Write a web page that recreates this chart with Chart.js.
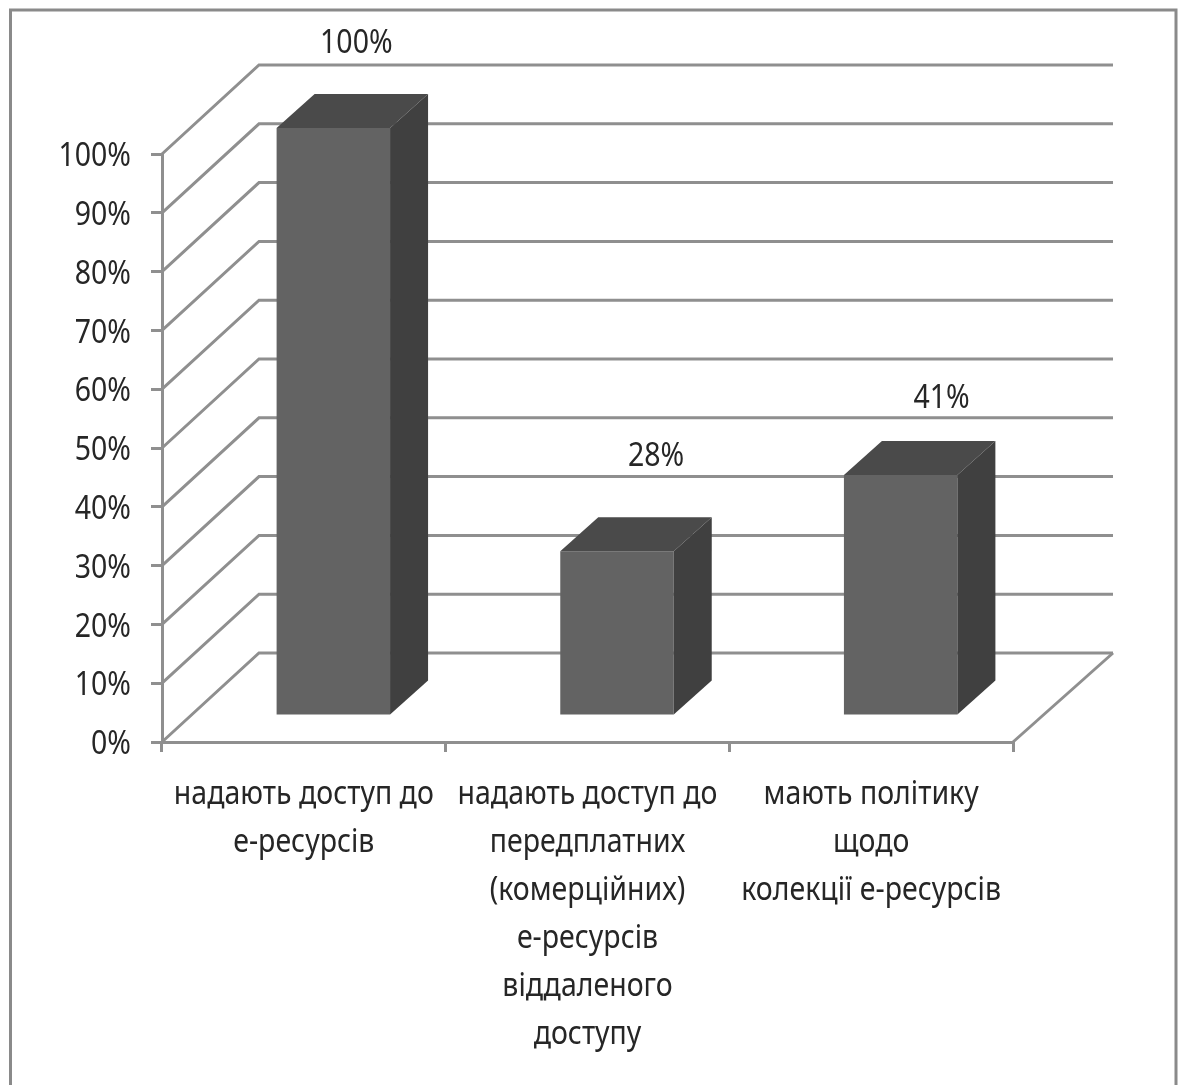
<!DOCTYPE html>
<html>
<head>
<meta charset="utf-8">
<style>
  html, body { margin: 0; padding: 0; background: #fff; }
  canvas { display: block; }
</style>
<script src="https://cdn.jsdelivr.net/npm/chart.js@4"></script>
</head>
<body>
<canvas id="chart" width="1178" height="1085"></canvas>
<script>
const categories = [
  ["надають доступ до", "е-ресурсів"],
  ["надають доступ до", "передплатних", "(комерційних)", "е-ресурсів", "віддаленого", "доступу"],
  ["мають політику", "щодо", "колекції е-ресурсів"]
];
const values = [100, 28, 41];
const valueLabels = ["100%", "28%", "41%"];

const FONT = '"Noto Sans", sans-serif';
const LINE = "#8f8f8f";
const TEXT = "#262626";

// fake 3d offsets
const wall = { dx: 97, dxRight: 100, dy: -89 };
const barShift = { dx: 29.5, dy: -26 };
const barDepth = { dx: 38, dy: -34 };
const labelShift = [[23, -84], [39, -94], [41, -76]];

// no condensed font here, so squeeze the text sideways
const SQUEEZE = 0.89;
const FONT_SIZE = 32;

function poly(ctx, pts, fill) {
  ctx.beginPath();
  pts.forEach((p, i) => i ? ctx.lineTo(p[0], p[1]) : ctx.moveTo(p[0], p[1]));
  ctx.closePath();
  ctx.fillStyle = fill;
  ctx.fill();
}

function narrowText(ctx, text, x, y, align) {
  ctx.save();
  ctx.translate(x, y);
  ctx.scale(SQUEEZE, 1);
  ctx.font = FONT_SIZE + "px " + FONT;
  ctx.fillStyle = TEXT;
  ctx.textAlign = align;
  ctx.textBaseline = "middle";
  ctx.fillText(text, 0, 0);
  ctx.restore();
}

const fake3d = {
  id: "fake3d",
  beforeDraw(chart) {
    // outer frame, its bottom edge is cut off in the picture
    const ctx = chart.ctx;
    ctx.save();
    ctx.strokeStyle = "#8a8a8a";
    ctx.lineWidth = 3;
    ctx.beginPath();
    ctx.moveTo(10.5, 1085);
    ctx.lineTo(10.5, 10);
    ctx.lineTo(1176, 10);
    ctx.lineTo(1176, 1085);
    ctx.stroke();
    ctx.restore();
  },
  beforeDatasetsDraw(chart) {
    const { ctx, chartArea: a, scales } = chart;
    ctx.save();
    ctx.strokeStyle = LINE;
    ctx.lineWidth = 3;
    scales.y.ticks.forEach(t => {
      const y = scales.y.getPixelForValue(t.value);
      ctx.beginPath();
      ctx.moveTo(a.left, y);
      ctx.lineTo(a.left + wall.dx, y + wall.dy);
      ctx.lineTo(a.right + wall.dxRight, y + wall.dy);
      ctx.stroke();
    });
    ctx.beginPath();
    ctx.moveTo(a.right, a.bottom);
    ctx.lineTo(a.right + wall.dxRight, a.bottom + wall.dy);
    ctx.stroke();
    // tick labels
    scales.y.ticks.forEach((t, i) => {
      narrowText(ctx, t.label, 131, scales.y.getPixelForTick(i) + 3, "right");
    });
    categories.forEach((lines, i) => {
      const x = scales.x.getPixelForTick(i);
      lines.forEach((line, j) => narrowText(ctx, line, x, 795 + j * 48, "center"));
    });
    ctx.restore();
  },
  beforeDatasetDraw(chart) {
    chart.ctx.save();
    chart.ctx.translate(barShift.dx, barShift.dy);
  },
  afterDatasetDraw(chart, args) {
    const ctx = chart.ctx;
    args.meta.data.forEach(bar => {
      const l = bar.x - bar.width / 2, r = bar.x + bar.width / 2;
      const d = barDepth;
      poly(ctx, [[l, bar.y], [r, bar.y], [r + d.dx, bar.y + d.dy], [l + d.dx, bar.y + d.dy]], "#4a4a4a");
      poly(ctx, [[r, bar.y], [r + d.dx, bar.y + d.dy], [r + d.dx, bar.base + d.dy], [r, bar.base]], "#404040");
    });
    ctx.restore();
  },
  afterDatasetsDraw(chart) {
    const ctx = chart.ctx;
    chart.getDatasetMeta(0).data.forEach((bar, i) => {
      narrowText(ctx, valueLabels[i],
        bar.x + barShift.dx + labelShift[i][0],
        bar.y + barShift.dy + labelShift[i][1], "center");
    });
  }
};

new Chart(document.getElementById("chart"), {
  type: "bar",
  data: {
    labels: categories,
    datasets: [{
      data: values,
      backgroundColor: "#636363",
      borderWidth: 0,
      categoryPercentage: 1,
      barPercentage: 0.4,
      clip: false
    }]
  },
  options: {
    responsive: false,
    animation: false,
    layout: { padding: { top: 154, right: 165, left: 0, bottom: 0 } },
    plugins: { legend: { display: false }, tooltip: { enabled: false } },
    scales: {
      x: {
        afterFit(s) { s.height = 343; },
        border: { color: LINE, width: 3 },
        grid: { drawOnChartArea: false, color: LINE, lineWidth: 3, tickLength: 10 },
        ticks: { display: false, autoSkip: false, maxRotation: 0 }
      },
      y: {
        min: 0,
        max: 100,
        afterFit(s) { s.width = 162; },
        border: { color: LINE, width: 3 },
        grid: { drawOnChartArea: false, color: LINE, lineWidth: 3, tickLength: 11 },
        ticks: { display: false, stepSize: 10, callback: v => v + "%" }
      }
    }
  },
  plugins: [fake3d]
});
</script>
</body>
</html>
